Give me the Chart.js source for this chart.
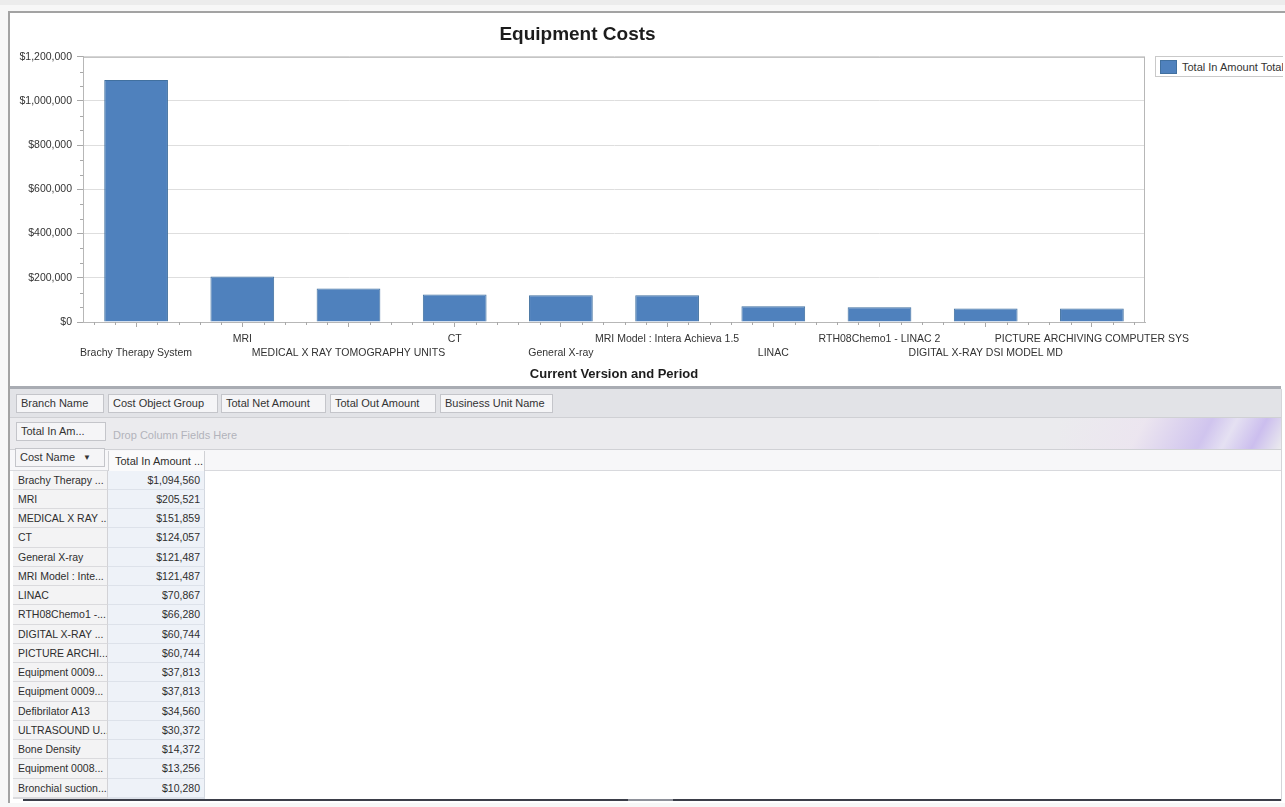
<!DOCTYPE html>
<html>
<head>
<meta charset="utf-8">
<title>Equipment Costs</title>
<script src="https://cdn.jsdelivr.net/npm/chart.js@4.4.1/dist/chart.umd.min.js"></script>
<style>
  html, body { margin: 0; padding: 0; }
  body { width: 1285px; height: 807px; overflow: hidden; position: relative; background: #f7f7f7;
         font-family: "Liberation Sans", Arial, sans-serif; font-size: 11px; color: #2e2e2e; }
  .abs { position: absolute; box-sizing: border-box; }
  #frame { left: 8px; top: 11px; width: 1280px; height: 792px; border-left: 2px solid #a3a3a3; border-top: 2px solid #a3a3a3; background: #fff; }
  #chartBox { left: 10px; top: 13px; width: 1275px; height: 374px; }
  #costChart { display: block; width: 1275px; height: 374px; }
  #legendClip { left: 1155px; top: 56px; width: 128px; height: 21px; overflow: hidden; }
  #legend { left: 0; top: 0; width: 150px; height: 21px; border: 1px solid #c9c9c9; background: #fff; white-space: nowrap; }
  #legend .sw { position: absolute; left: 4px; top: 3px; width: 17px; height: 14px; box-sizing: border-box; }
  #legend .tx { position: absolute; left: 26px; top: 3px; line-height: 14px; color: #333; }
  .btn { height: 19px; border: 1px solid #c4c5ca; background: #f5f5f7; line-height: 17px; padding-left: 4px; white-space: nowrap; overflow: hidden; color: #333; }
  .rh { left: 13px; width: 95px; background: #f3f3f4; border-bottom: 1px solid #dadadd; border-right: 1px solid #d2d2d6; padding-left: 5px; white-space: nowrap; overflow: hidden; font-size: 10.5px; }
  .rv { left: 108px; width: 97px; background: #eef2f8; border-bottom: 1px solid #dde2ea; border-right: 1px solid #d3d8e0; padding-right: 4px; text-align: right; white-space: nowrap; font-size: 10.5px; }
</style>
</head>
<body>
<div class="abs" style="left:0;top:0;width:1285px;height:5px;background:#ececec"></div>
<div id="frame" class="abs"></div>
<div id="chartBox" class="abs"><canvas id="costChart" width="1275" height="374"></canvas></div>
<div id="legendClip" class="abs"><div id="legend" class="abs"></div></div>
<div id="grid"></div>

<script>
// chart data
const costNames = [
  "Brachy Therapy System", "MRI", "MEDICAL X RAY TOMOGRAPHY UNITS", "CT", "General X-ray",
  "MRI Model : Intera Achieva 1.5", "LINAC", "RTH08Chemo1 - LINAC 2", "DIGITAL X-RAY DSI MODEL MD",
  "PICTURE ARCHIVING COMPUTER SYS"
];
const totalInAmount = [1094560, 205521, 151859, 124057, 121487, 121487, 70867, 66280, 60744, 60744];
const yTickValues = [0, 200000, 400000, 600000, 800000, 1000000, 1200000];
const seriesName = "Total In Amount Total";

// pivot grid rows (as shown, truncated by the grid)
const gridNames = [
  "Brachy Therapy ...", "MRI", "MEDICAL X RAY ...", "CT", "General X-ray", "MRI Model : Inte...",
  "LINAC", "RTH08Chemo1 -...", "DIGITAL X-RAY ...", "PICTURE ARCHI...", "Equipment 0009...",
  "Equipment 0009...", "Defibrilator A13", "ULTRASOUND U...", "Bone Density", "Equipment 0008...",
  "Bronchial suction...", ""
];
const gridValues = [1094560, 205521, 151859, 124057, 121487, 121487, 70867, 66280, 60744, 60744,
  37813, 37813, 34560, 30372, 14372, 13256, 10280, null];
const filterFields = ["Branch Name", "Cost Object Group", "Total Net Amount", "Total Out Amount", "Business Unit Name"];

const barColor = '#4f81bd';
const fontFamily = '"Liberation Sans", Arial, sans-serif';

function money(v) {
  return '$' + Number(v).toLocaleString('en-US');
}

// minor ticks + plot frame
const frameAndMinorTicks = {
  id: 'frameAndMinorTicks',
  afterDraw(chart) {
    const ctx = chart.ctx;
    const a = chart.chartArea;
    const x = chart.scales.x, y = chart.scales.y;
    ctx.save();
    ctx.strokeStyle = '#b7b7b7';
    ctx.lineWidth = 1;
    ctx.strokeRect(a.left + 0.5, a.top + 0.5, a.right - a.left - 1, a.bottom - a.top);
    ctx.strokeStyle = '#a8a8a8';
    ctx.beginPath();
    const step = 200000 / 3;
    for (let k = 1; k < 18; k++) {
      if (k % 3 === 0) continue;
      const py = Math.round(y.getPixelForValue(k * step)) + 0.5;
      ctx.moveTo(a.left - 3, py);
      ctx.lineTo(a.left, py);
    }
    for (let p = -0.4; p < costNames.length - 0.5; p += 0.2) {
      const r = Math.round(p * 10) / 10;
      if (Number.isInteger(r)) continue;
      const px = Math.round(x.getPixelForValue(r)) + 0.5;
      ctx.moveTo(px, a.bottom);
      ctx.lineTo(px, a.bottom + 3);
    }
    ctx.stroke();
    ctx.restore();
  }
};

const ctx = document.getElementById('costChart').getContext('2d');
const costChart = new Chart(ctx, {
  type: 'bar',
  data: {
    labels: costNames,
    datasets: [{
      label: seriesName,
      data: totalInAmount,
      backgroundColor: barColor,
      borderColor: '#41709f',
      borderWidth: 1,
      barPercentage: 0.6,
      categoryPercentage: 1
    }]
  },
  options: {
    responsive: false,
    animation: false,
    devicePixelRatio: 1,
    layout: { padding: { top: 10, left: 0, right: 140, bottom: 5 } },
    plugins: {
      legend: { display: false },
      tooltip: { enabled: false },
      title: {
        display: true,
        text: 'Equipment Costs',
        color: '#1c1c1c',
        font: { family: fontFamily, size: 19, weight: 'bold' },
        padding: { top: 0, bottom: 11 }
      }
    },
    scales: {
      x: {
        offset: true,
        grid: { display: true, drawOnChartArea: false, offset: false, tickLength: 5, tickColor: '#a8a8a8' },
        border: { display: true, color: '#b7b7b7' },
        ticks: {
          autoSkip: false,
          maxRotation: 0,
          minRotation: 0,
          padding: 5,
          color: '#333',
          font: { family: fontFamily, size: 10.5, lineHeight: 1.33 },
          // staggered labels: every other one drops to the second row
          callback(value, index) {
            const name = this.getLabelForValue(value);
            return index % 2 === 0 ? ['', name] : name;
          }
        },
        title: {
          display: true,
          text: 'Current Version and Period',
          color: '#1c1c1c',
          font: { family: fontFamily, size: 13, weight: 'bold' },
          padding: { top: 0, bottom: 0 }
        },
        afterFit(scale) { scale.height = 60; }
      },
      y: {
        min: 0,
        max: 1200000,
        afterBuildTicks(scale) { scale.ticks = yTickValues.map(v => ({ value: v })); },
        grid: { color: '#dedede', tickLength: 6, tickColor: '#a8a8a8' },
        border: { display: true, color: '#b7b7b7' },
        ticks: {
          padding: 5,
          color: '#333',
          font: { family: fontFamily, size: 10.5 },
          callback: v => money(v)
        },
        afterFit(scale) { scale.width = 73; }
      }
    }
  },
  plugins: [frameAndMinorTicks]
});

// legend from the dataset
const legend = document.getElementById('legend');
costChart.data.datasets.forEach(ds => {
  legend.innerHTML = '<div class="sw" style="background:' + ds.backgroundColor + ';border:1px solid ' + ds.borderColor + '"></div>' +
    '<div class="tx">' + ds.label + '</div>';
});

// pivot grid below the chart
const grid = document.getElementById('grid');
let html = '';
html += '<div class="abs" style="left:10px;top:386px;width:1271px;height:3px;background:#a9acb3"></div>';
html += '<div class="abs" style="left:10px;top:389px;width:1272px;height:412px;background:#fff;border-right:1px solid #d4d4d8"></div>';
html += '<div class="abs" style="left:10px;top:389px;width:1271px;height:29px;background:#e2e3e7;border-bottom:1px solid #cfd0d4"></div>';
html += '<div class="abs" style="left:10px;top:418px;width:1271px;height:32px;background:#ebebee;border-bottom:1px solid #d0d1d5;overflow:hidden">' +
  '<div class="abs" style="left:1050px;top:0;width:230px;height:32px;background:linear-gradient(118deg, rgba(235,235,238,0) 0%, rgba(236,228,240,0.8) 35%, rgba(205,192,238,0.9) 62%, rgba(225,218,245,0.6) 72%, rgba(200,185,238,0.9) 84%, rgba(235,235,238,0) 96%)"></div></div>';
html += '<div class="abs" style="left:10px;top:450px;width:1271px;height:21px;background:#f7f7f9;border-bottom:1px solid #d8d9dd"></div>';
const fieldLefts = [16, 108, 221, 330, 440];
const fieldWidths = [88, 110, 105, 106, 113];
filterFields.forEach((f, i) => {
  html += '<div class="abs btn" style="left:' + fieldLefts[i] + 'px;top:394px;width:' + fieldWidths[i] + 'px;">' + f + '</div>';
});
html += '<div class="abs btn" style="left:16px;top:422px;width:90px;">Total In Am...</div>';
html += '<div class="abs" style="left:113px;top:429px;color:#b2b3bb;">Drop Column Fields Here</div>';
html += '<div class="abs btn" style="left:15px;top:448px;width:90px;">Cost Name <span style="position:absolute;left:67px;top:0;font-size:8px;">&#9660;</span></div>';
html += '<div class="abs" style="left:108px;top:451px;width:97px;height:20px;background:#fafafb;border-left:1px solid #d0d1d5;border-right:1px solid #d0d1d5;padding-left:6px;line-height:20px;white-space:nowrap;">Total In Amount ...</div>';
gridNames.forEach((n, i) => {
  const top = 470.5 + i * 19.25;
  const h = Math.min(19.25, 799 - top);
  if (h <= 0) return;
  html += '<div class="abs rh" style="top:' + top + 'px;height:' + h + 'px;line-height:18px;">' + n + '</div>';
  html += '<div class="abs rv" style="top:' + top + 'px;height:' + h + 'px;line-height:18px;">' + (gridValues[i] == null ? '' : money(gridValues[i])) + '</div>';
});
html += '<div class="abs" style="left:23px;top:799px;width:1258px;height:2px;background:#3b3e49"></div>';
html += '<div class="abs" style="left:628px;top:799px;width:45px;height:2px;background:#8e919a"></div>';
grid.innerHTML = html;
</script>
</body>
</html>
